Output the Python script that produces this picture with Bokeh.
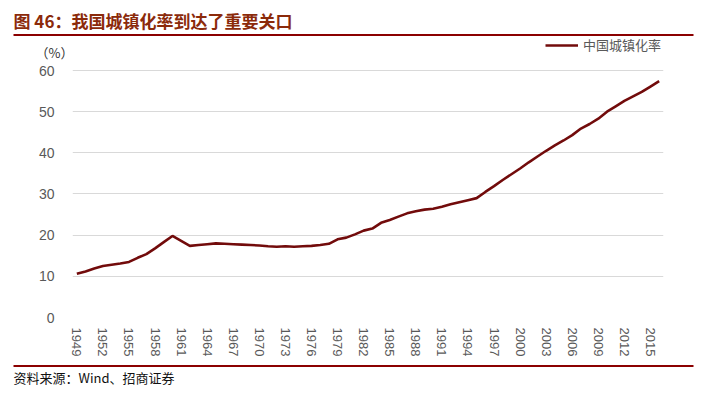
from bokeh.plotting import figure
from bokeh.models import (Range1d, FixedTicker, Label, Legend, LegendItem, ColumnDataSource)
from bokeh.layouts import column, row
from bokeh.embed import file_html
from bokeh.resources import INLINE

# ---- data ----
years = list(range(1949, 2017))
urban_rate = [
    10.6, 11.2, 11.9, 12.5, 12.8, 13.1, 13.5, 14.5, 15.4, 16.8,   # 1949-1958
    18.3, 19.8, 18.6, 17.4, 17.6, 17.8, 18.0, 17.9, 17.8, 17.7,   # 1959-1968
    17.6, 17.5, 17.3, 17.2, 17.3, 17.2, 17.3, 17.4, 17.6, 17.9,   # 1969-1978
    19.0, 19.4, 20.2, 21.1, 21.6, 23.0, 23.7, 24.5, 25.3, 25.8,   # 1979-1988
    26.2, 26.4, 26.9, 27.5, 28.0, 28.5, 29.0, 30.5, 31.9, 33.4,   # 1989-1998
    34.8, 36.2, 37.7, 39.1, 40.5, 41.8, 43.0, 44.3, 45.9, 47.0,   # 1999-2008
    48.3, 50.0, 51.3, 52.6, 53.7, 54.8, 56.1, 57.4,               # 2009-2016
]
x_tick_years = [1949, 1952, 1955, 1958, 1961, 1964, 1967, 1970, 1973, 1976, 1979,
                1982, 1985, 1988, 1991, 1994, 1997, 2000, 2003, 2006, 2009, 2012, 2015]
y_ticks = [0, 10, 20, 30, 40, 50, 60]
series_name = "中国城镇化率"
title_text = "图 46：我国城镇化率到达了重要关口"
source_text = "资料来源：Wind、招商证券"
unit_text = "（%）"

W = 710
RED_RULE = "#8B0000"
LINE_COLOR = "#720B0B"
GRAY = "#595959"
CJK = "Noto Sans CJK SC"
H_HDR = 63

# ---- header: title, rule, legend, unit ----
hdr = figure(width=W, height=H_HDR, x_range=Range1d(0, W), y_range=Range1d(H_HDR, 0),
             x_axis_type=None, y_axis_type=None, toolbar_location=None,
             output_backend="svg", min_border=0)
hdr.outline_line_color = None
hdr.grid.visible = False
hdr.add_layout(Label(x=13, y=20, text=title_text, text_font=CJK, text_font_style="bold",
                     text_font_size="17px", text_color="#8B2A0A",
                     text_baseline="middle", text_align="left"))
hdr.segment(x0=[13], y0=[34.5], x1=[693], y1=[34.5], line_color=RED_RULE, line_width=2.2)
hdr.add_layout(Label(x=54, y=51.5, text=unit_text, text_font=CJK, text_font_size="13px",
                     text_color="#333333", text_align="center", text_baseline="middle"))
nan = float("nan")
key = hdr.line(x=[nan, nan], y=[nan, nan], line_color=LINE_COLOR, line_width=2.6)
legend = Legend(items=[LegendItem(label=series_name, renderers=[key])],
                location=(545, 9), glyph_width=33, glyph_height=14, label_height=14,
                label_standoff=5, padding=0, margin=0, spacing=0,
                border_line_color=None, background_fill_alpha=0,
                label_text_font=CJK, label_text_font_size="13px", label_text_color=GRAY)
hdr.add_layout(legend)

# ---- main chart ----
p = figure(width=W, height=299, x_range=Range1d(1948.5, 2016.5), y_range=Range1d(0, 61.7),
           toolbar_location=None, output_backend="svg",
           min_border_left=72, min_border_right=47, min_border_top=0, min_border_bottom=45)
p.outline_line_color = None
src = ColumnDataSource(dict(year=years, rate=urban_rate))
p.line("year", "rate", source=src, line_color=LINE_COLOR, line_width=2.6)

p.xgrid.visible = False
p.ygrid.grid_line_color = "#D9D9D9"
p.ygrid.grid_line_width = 1

p.yaxis.ticker = FixedTicker(ticks=y_ticks)
p.yaxis.axis_line_color = None
p.yaxis.major_tick_line_color = None
p.yaxis.minor_tick_line_color = None
p.yaxis.major_tick_out = 0
p.yaxis.major_tick_in = 0
p.yaxis.major_label_standoff = 18
p.yaxis.major_label_text_font = "Liberation Sans"
p.yaxis.major_label_text_font_size = "14px"
p.yaxis.major_label_text_color = GRAY

p.xaxis.ticker = FixedTicker(ticks=x_tick_years)
p.xaxis.axis_line_color = None
p.xaxis.major_tick_line_color = None
p.xaxis.minor_tick_line_color = None
p.xaxis.major_tick_out = 0
p.xaxis.major_tick_in = 0
p.xaxis.major_label_standoff = 10
p.xaxis.major_label_orientation = "vertical"
p.xaxis.major_label_text_font = "Liberation Sans"
p.xaxis.major_label_text_font_size = "13px"
p.xaxis.major_label_text_color = GRAY

# ---- footer: rule + source ----
ftr = figure(width=W, height=25, x_range=Range1d(0, W), y_range=Range1d(25, 0),
             x_axis_type=None, y_axis_type=None, toolbar_location=None,
             output_backend="svg", min_border=0)
ftr.outline_line_color = None
ftr.grid.visible = False
ftr.segment(x0=[13], y0=[3.5], x1=[693], y1=[3.5], line_color=RED_RULE, line_width=2.2)
ftr.add_layout(Label(x=13, y=15, text=source_text, text_font=CJK, text_font_size="13px",
                     text_color="#111111", text_baseline="middle", text_align="left"))

layout = column(row(hdr), row(p), row(ftr), spacing=0)
open("out.html", "w").write(file_html(layout, INLINE))
